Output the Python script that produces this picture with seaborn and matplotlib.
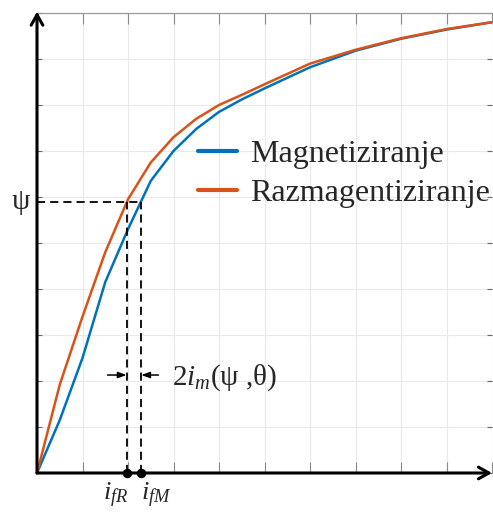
import numpy as np
import pandas as pd
import matplotlib
matplotlib.use("Agg")
import matplotlib.pyplot as plt
import seaborn as sns

# Magnetising curve psi(i_f) for increasing and decreasing field current
i_mag = [0.0, 0.5, 1.0, 1.5, 2.0, 2.5, 3.0, 3.5, 4.0, 4.5, 5.0, 6.0, 7.0, 8.0, 9.0, 10.0]
psi_mag = [0.0, 1.15, 2.5, 4.15, 5.3, 6.35, 7.0, 7.48, 7.85, 8.12, 8.36, 8.82, 9.18, 9.44, 9.64, 9.8]

i_raz = [0.0, 0.5, 1.0, 1.5, 2.0, 2.5, 3.0, 3.5, 4.0, 4.5, 5.0, 6.0, 7.0, 8.0, 9.0, 10.0]
psi_raz = [0.0, 1.92, 3.4, 4.8, 5.95, 6.75, 7.3, 7.7, 8.0, 8.22, 8.45, 8.9, 9.2, 9.45, 9.65, 9.8]

series_names = ["Magnetiziranje", "Razmagentiziranje"]
series_colors = ["#0072BD", "#D95319"]

# Operating flux level and the two field currents that give it
PSI = 5.9
IF_R = 1.97
IF_M = 2.29

sns.set_style("white")
plt.rcParams["font.family"] = ["Liberation Serif", "DejaVu Serif"]
plt.rcParams["mathtext.fontset"] = "custom"
plt.rcParams["mathtext.rm"] = "Liberation Serif"
plt.rcParams["mathtext.it"] = "Liberation Serif:italic"

df = pd.concat([
    pd.DataFrame({"i": i_mag, "psi": psi_mag, "curve": series_names[0]}),
    pd.DataFrame({"i": i_raz, "psi": psi_raz, "curve": series_names[1]}),
])

fig = plt.figure(figsize=(4.93, 5.12), dpi=100)
ax = fig.add_axes([37 / 493, 39 / 512, 455 / 493, 460 / 512])

sns.lineplot(data=df, x="i", y="psi", hue="curve", hue_order=series_names,
             palette=series_colors, estimator=None, sort=False, lw=1.8, ax=ax)

ax.set_xlim(0, 10)
ax.set_ylim(0, 10)
ax.set_xticks(range(0, 11))
ax.set_yticks(range(0, 11))
ax.set_xlabel("")
ax.set_ylabel("")
ax.grid(True, color="#e9e9e9", lw=0.8)
ax.tick_params(axis="x", direction="in", length=8, width=0.8, color="#8a8a8a",
               top=True, bottom=True, labelbottom=False)
ax.tick_params(axis="y", direction="in", length=3.6, width=0.8, color="#6a6a6a",
               left=True, right=True, labelleft=False)
for side in ["left", "bottom", "right"]:
    ax.spines[side].set_visible(False)
ax.spines["top"].set_color("#9a9a9a")
ax.spines["top"].set_linewidth(0.9)

# Axes drawn as arrows
arrow_kw = dict(arrowstyle="->,head_length=0.75,head_width=0.42", lw=2.2,
                color="black", shrinkA=0, shrinkB=0)
ax.annotate("", xy=(0, 1.003), xytext=(0, 0), xycoords="axes fraction",
            textcoords="axes fraction", arrowprops=arrow_kw, annotation_clip=False)
ax.annotate("", xy=(1.0, 0), xytext=(0, 0), xycoords="axes fraction",
            textcoords="axes fraction", arrowprops=arrow_kw, annotation_clip=False)

# Dashed construction lines for the flux level psi
dash = dict(color="black", lw=1.3, ls=(0, (4.5, 2.8)), zorder=4)
ax.plot([0, IF_M], [PSI, PSI], **dash)
ax.plot([IF_R, IF_R], [0, PSI], **dash)
ax.plot([IF_M, IF_M], [0, PSI], **dash)
ax.scatter([IF_R, IF_M], [0, 0], s=34, color="black", zorder=6, clip_on=False)

ax.text(-0.35, PSI, "ψ", fontsize=21, ha="center", va="center")
ax.annotate(r"$i_{fR}$", xy=(IF_R + 0.03, 0), xytext=(0, -6), textcoords="offset points",
            ha="right", va="top", fontsize=19, annotation_clip=False)
ax.annotate(r"$i_{fM}$", xy=(IF_M, 0), xytext=(0, -6), textcoords="offset points",
            ha="left", va="top", fontsize=19, annotation_clip=False)

# Width of the hysteresis band between the two curves
small_arrow = dict(arrowstyle="-|>,head_length=0.5,head_width=0.18", lw=1.1,
                   color="black", shrinkA=0, shrinkB=0)
ax.annotate("", xy=(IF_R, 2.13), xytext=(IF_R - 0.42, 2.13), arrowprops=small_arrow)
ax.annotate("", xy=(IF_M, 2.13), xytext=(IF_M + 0.38, 2.13), arrowprops=small_arrow)
ax.text(2.97, 1.91, r"2$i_m$(ψ ,θ)", fontsize=21, ha="left", va="baseline")

leg = ax.legend(loc="upper left", bbox_to_anchor=(0.354, 0.724), frameon=False,
                fontsize=23, handlelength=1.22, handletextpad=0.4,
                borderpad=0, borderaxespad=0, labelspacing=0.3)
for h in leg.get_lines():
    h.set_linewidth(3)

fig.savefig("out.png", dpi=100)
